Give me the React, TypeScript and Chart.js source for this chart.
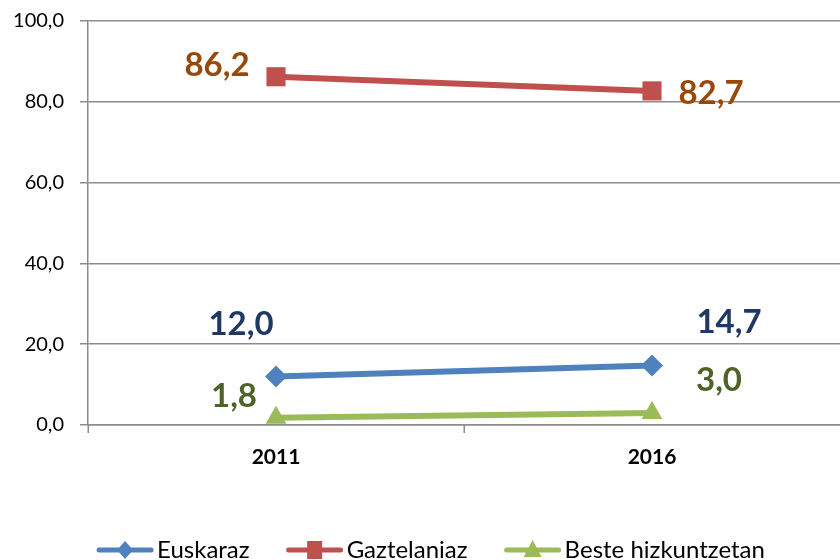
import React, { useEffect, useRef } from "react";
import { Chart, registerables } from "chart.js";

Chart.register(...registerables);

const categories = ["2011", "2016"];
const seriesNames = ["Euskaraz", "Gaztelaniaz", "Beste hizkuntzetan"];
const euskaraz = [12.0, 14.7];
const gaztelaniaz = [86.2, 82.7];
const beste = [1.8, 3.0];
const yMin = 0;
const yMax = 100;
const yStep = 20;

const lineColors = ["#4F81BD", "#C0504D", "#9BBB59"];
const labelColors = ["#1F3864", "#984807", "#4F6228"];
const pointStyles = ["rectRot", "rect", "triangle"];
const pointRadii = [11, 13.5, 12];
const AXIS_GRAY = "#8c8c8c";

// label offsets (px) from each point: [dx, dy]
const labelOffsets = [
  [[-35, -54], [77, -45]],
  [[-59, -13], [59, 1]],
  [[-42, -23], [67, -34]],
];

const fmt = (v: number) => v.toFixed(1).replace(".", ",");
const FONT = "Lato, 'Open Sans', sans-serif";

// category-boundary tick marks (left of each category), no mark at far right edge
const xTickPlugin = {
  id: "xTicks",
  afterDraw(chart: any) {
    const xs = chart.scales.x;
    const ctx = chart.ctx;
    const n = categories.length;
    const half = n > 1 ? (xs.getPixelForTick(1) - xs.getPixelForTick(0)) / 2 : xs.width / 2;
    ctx.save();
    ctx.strokeStyle = AXIS_GRAY;
    ctx.lineWidth = 1.5;
    for (let i = 0; i < n; i++) {
      const px = Math.round(xs.getPixelForTick(i) - half) + 0.25;
      ctx.beginPath();
      ctx.moveTo(px, chart.chartArea.bottom);
      ctx.lineTo(px, chart.chartArea.bottom + 8);
      ctx.stroke();
    }
    ctx.restore();
  },
};

const dataLabelPlugin = {
  id: "dataLabels",
  afterDatasetsDraw(chart: any) {
    const ctx = chart.ctx;
    ctx.save();
    ctx.font = `bold 33px ${FONT}`;
    ctx.textAlign = "center";
    ctx.textBaseline = "alphabetic";
    chart.data.datasets.forEach((ds: any, i: number) => {
      const meta = chart.getDatasetMeta(i);
      meta.data.forEach((pt: any, j: number) => {
        const [dx, dy] = labelOffsets[i][j];
        ctx.fillStyle = labelColors[i];
        ctx.fillText(fmt(ds.data[j]), pt.x + dx, pt.y + dy + 12);
      });
    });
    ctx.restore();
  },
};

const legendPlugin = {
  id: "customLegend",
  afterDraw(chart: any) {
    const ctx = chart.ctx;
    ctx.save();
    ctx.font = `24px ${FONT}`;
    const lineLen = 56;
    const textGap = 4;
    const itemGap = 37;
    const widths = seriesNames.map((n) => ctx.measureText(n).width);
    const total = widths.reduce((a, w) => a + lineLen + textGap + w, 0) + itemGap * (seriesNames.length - 1);
    let x = 431 - total / 2;
    const y = 550;
    seriesNames.forEach((name, i) => {
      ctx.strokeStyle = lineColors[i];
      ctx.fillStyle = lineColors[i];
      ctx.lineWidth = 5;
      ctx.lineCap = "round";
      ctx.beginPath();
      ctx.moveTo(x + 2, y);
      ctx.lineTo(x + lineLen - 2, y);
      ctx.stroke();
      const cx = x + lineLen / 2;
      ctx.beginPath();
      if (i === 0) {
        ctx.moveTo(cx, y - 9);
        ctx.lineTo(cx + 8, y);
        ctx.lineTo(cx, y + 9);
        ctx.lineTo(cx - 8, y);
        ctx.closePath();
      } else if (i === 1) {
        ctx.rect(cx - 7.5, y - 9, 15, 18);
      } else {
        ctx.moveTo(cx, y - 10);
        ctx.lineTo(cx + 9, y + 7);
        ctx.lineTo(cx - 9, y + 7);
        ctx.closePath();
      }
      ctx.fill();
      ctx.fillStyle = "#000";
      ctx.textAlign = "left";
      ctx.textBaseline = "alphabetic";
      ctx.fillText(name, x + lineLen + textGap, y + 8);
      x += lineLen + textGap + widths[i] + itemGap;
    });
    ctx.restore();
  },
};

const zeroPad = (s: any) => {
  s.paddingTop = 0;
  s.paddingBottom = 0;
  s.paddingLeft = 0;
  s.paddingRight = 0;
};

export default function App() {
  const ref = useRef<HTMLCanvasElement | null>(null);
  useEffect(() => {
    document.body.style.margin = "0";
    const canvas = ref.current;
    if (!canvas) return;
    const seriesData = [euskaraz, gaztelaniaz, beste];
    const chart = new Chart(canvas, {
      type: "line",
      data: {
        labels: categories,
        datasets: seriesNames.map((name, i) => ({
          label: name,
          data: seriesData[i],
          borderColor: lineColors[i],
          backgroundColor: lineColors[i],
          borderWidth: 6,
          pointStyle: pointStyles[i] as any,
          pointRadius: pointRadii[i],
          pointHoverRadius: pointRadii[i],
          pointBorderWidth: 0,
          pointBackgroundColor: lineColors[i],
          tension: 0,
          clip: false as any,
        })),
      },
      options: {
        animation: false,
        responsive: false,
        maintainAspectRatio: false,
        layout: { autoPadding: false, padding: { top: 21, right: 0, left: 0, bottom: 0 } },
        plugins: { legend: { display: false }, tooltip: { enabled: false } },
        scales: {
          x: {
            type: "category",
            offset: true,
            grid: {
              offset: true,
              drawOnChartArea: false,
              tickLength: 8,
              color: "rgba(0,0,0,0)",
              lineWidth: 1.5,
            },
            border: { color: AXIS_GRAY, width: 1.5 },
            ticks: {
              color: "#000",
              font: { family: FONT, size: 21, weight: "bold" },
              padding: 12,
            },
            afterFit: (s: any) => {
              s.height = 135;
              zeroPad(s);
            },
          },
          y: {
            min: yMin,
            max: yMax,
            ticks: {
              stepSize: yStep,
              color: "#000",
              font: { family: FONT, size: 20 },
              padding: 16,
              callback: (v: any) => fmt(Number(v)),
            },
            grid: { color: AXIS_GRAY, lineWidth: 1.5, tickLength: 8 },
            border: { color: AXIS_GRAY, width: 1.5 },
            afterFit: (s: any) => {
              s.width = 88;
              zeroPad(s);
            },
          },
        },
      },
      plugins: [xTickPlugin, dataLabelPlugin, legendPlugin],
    });
    return () => chart.destroy();
  }, []);
  return (
    <div style={{ width: 840, height: 560 }}>
      <canvas ref={ref} width={840} height={560} style={{ display: "block" }} />
    </div>
  );
}
